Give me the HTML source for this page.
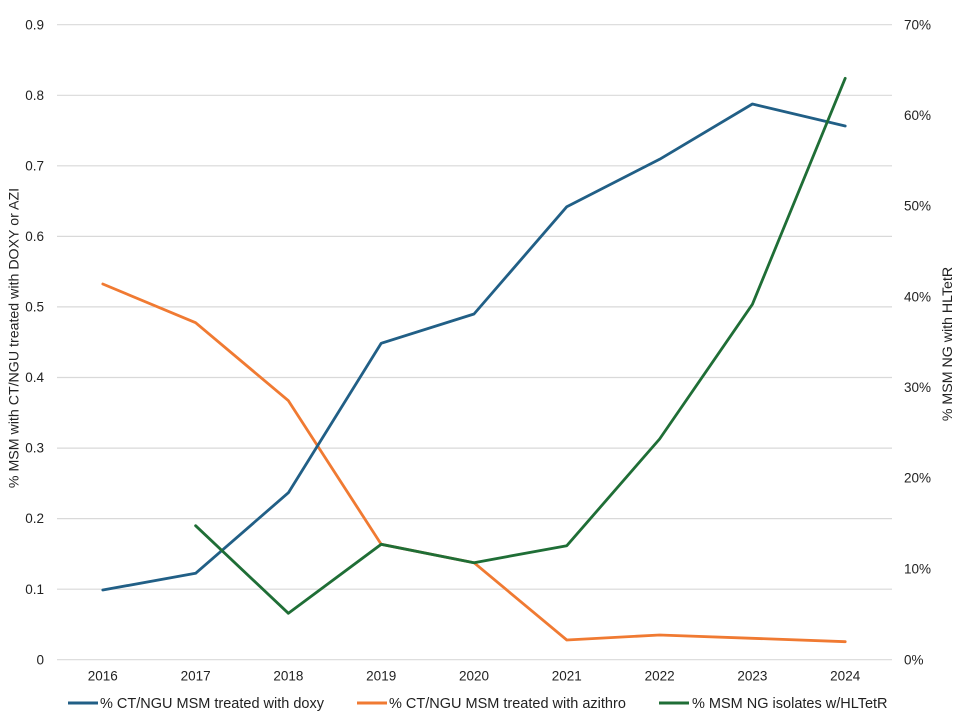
<!DOCTYPE html>
<html>
<head>
<meta charset="utf-8">
<style>
  html,body{margin:0;padding:0;background:#fff;}
  svg{display:block;}
  text{font-family:"Liberation Sans",Arial,sans-serif;font-size:13.5px;fill:#222;}
  .lg{font-size:14.5px;}
  .tt{font-size:14.2px;}
</style>
</head>
<body>
<svg width="960" height="720" viewBox="0 0 960 720" xmlns="http://www.w3.org/2000/svg">
  <rect width="960" height="720" fill="#fff"/>
  <!-- gridlines -->
  <g stroke="#d9d9d9" stroke-width="1.2">
    <line x1="57" y1="24.7" x2="892" y2="24.7"/>
    <line x1="57" y1="95.3" x2="892" y2="95.3"/>
    <line x1="57" y1="165.8" x2="892" y2="165.8"/>
    <line x1="57" y1="236.4" x2="892" y2="236.4"/>
    <line x1="57" y1="306.9" x2="892" y2="306.9"/>
    <line x1="57" y1="377.5" x2="892" y2="377.5"/>
    <line x1="57" y1="448.1" x2="892" y2="448.1"/>
    <line x1="57" y1="518.6" x2="892" y2="518.6"/>
    <line x1="57" y1="589.2" x2="892" y2="589.2"/>
    <line x1="57" y1="659.7" x2="892" y2="659.7"/>
  </g>
  <!-- left tick labels -->
  <g text-anchor="end">
    <text x="44" y="29.5">0.9</text>
    <text x="44" y="100">0.8</text>
    <text x="44" y="170.5">0.7</text>
    <text x="44" y="241">0.6</text>
    <text x="44" y="311.5">0.5</text>
    <text x="44" y="382">0.4</text>
    <text x="44" y="452.5">0.3</text>
    <text x="44" y="523">0.2</text>
    <text x="44" y="594">0.1</text>
    <text x="44" y="664.5">0</text>
  </g>
  <!-- right tick labels -->
  <g text-anchor="start">
    <text x="904" y="29.5">70%</text>
    <text x="904" y="120">60%</text>
    <text x="904" y="210.5">50%</text>
    <text x="904" y="301.5">40%</text>
    <text x="904" y="392">30%</text>
    <text x="904" y="482.5">20%</text>
    <text x="904" y="573.5">10%</text>
    <text x="904" y="664.5">0%</text>
  </g>
  <!-- x labels -->
  <g text-anchor="middle">
    <text x="102.8" y="680.5">2016</text>
    <text x="195.6" y="680.5">2017</text>
    <text x="288.4" y="680.5">2018</text>
    <text x="381.2" y="680.5">2019</text>
    <text x="474" y="680.5">2020</text>
    <text x="566.8" y="680.5">2021</text>
    <text x="659.6" y="680.5">2022</text>
    <text x="752.4" y="680.5">2023</text>
    <text x="845.2" y="680.5">2024</text>
  </g>
  <!-- axis titles -->
  <text class="tt" transform="translate(18.5,338) rotate(-90)" text-anchor="middle">% MSM with CT/NGU treated with DOXY or AZI</text>
  <text class="tt" transform="translate(952,344) rotate(-90)" text-anchor="middle">% MSM NG with HLTetR</text>

  <!-- series -->
  <g fill="none" stroke-width="2.8" stroke-linejoin="round" stroke-linecap="round">
    <polyline stroke="#F07A32" points="102.8,284 195.6,322.7 288.4,400.7 381.2,544.3 474,562.7 566.8,640 659.6,635 752.4,638.3 845.2,641.7"/>
    <polyline stroke="#215F86" points="102.8,590 195.6,573.3 288.4,492.7 381.2,343.3 474,314 566.8,206.7 659.6,159.3 752.4,104 845.2,126"/>
    <polyline stroke="#1F6E36" points="195.6,525.7 288.4,613.3 381.2,544.3 474,562.7 566.8,545.7 659.6,439 752.4,304.3 845.2,78.3"/>
  </g>

  <!-- legend -->
  <g stroke-width="3">
    <line x1="68" y1="703" x2="98" y2="703" stroke="#215F86"/>
    <line x1="357" y1="703" x2="387" y2="703" stroke="#F07A32"/>
    <line x1="659" y1="703" x2="689" y2="703" stroke="#1F6E36"/>
  </g>
  <text class="lg" x="100" y="708">% CT/NGU MSM treated with doxy</text>
  <text class="lg" x="389" y="708">% CT/NGU MSM treated with azithro</text>
  <text class="lg" x="692" y="708">% MSM NG isolates w/HLTetR</text>
</svg>
</body>
</html>
